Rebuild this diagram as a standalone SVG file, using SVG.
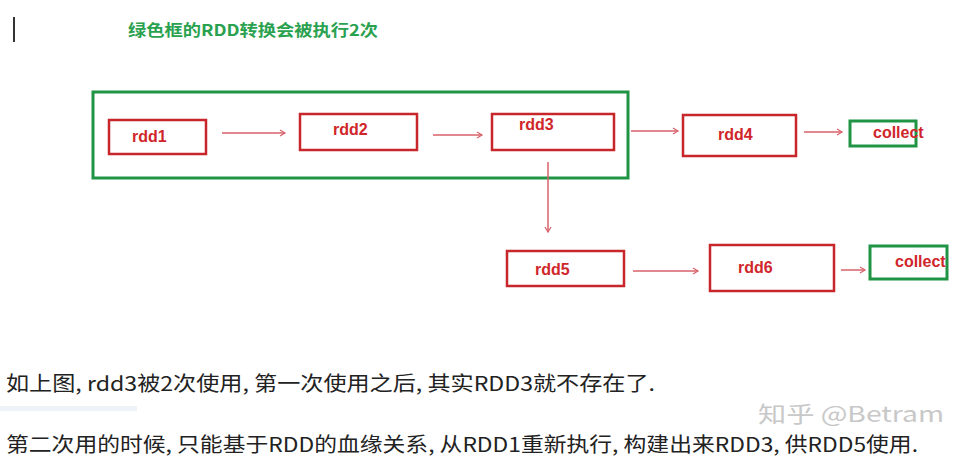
<svg xmlns="http://www.w3.org/2000/svg" width="968" height="462" viewBox="0 0 968 462">
<style>
.r{fill:none;stroke:#c8262b;stroke-width:2.5}
.g{fill:none;stroke:#1e9444;stroke-width:3}
.t{font-family:"Liberation Sans","Noto Sans CJK SC",sans-serif;font-weight:bold;font-size:16px;fill:#d0262b}
.c{stroke:#d8606a;stroke-width:1.5;fill:none;marker-end:url(#a)}
.b{font-family:"Noto Sans CJK SC",sans-serif;font-size:20px;fill:#222}
</style>
<defs><marker id="a" markerWidth="8" markerHeight="8" refX="6" refY="4" orient="auto" markerUnits="userSpaceOnUse"><path d="M1,1 L6,4 L1,7" fill="none" stroke="#d8606a" stroke-width="1.2"/></marker></defs>
<rect width="968" height="462" fill="#fff"/>
<line x1="14" y1="17" x2="14" y2="42" stroke="#333" stroke-width="2"/>
<text x="128" y="36" font-family="Noto Sans CJK SC,sans-serif" font-weight="bold" font-size="16" fill="#2aa14f" textLength="250" lengthAdjust="spacingAndGlyphs">绿色框的RDD转换会被执行2次</text>
<g id="green"><rect class="g" x="93" y="92" width="535" height="86"/></g>
<g id="rdd1"><rect class="r" x="109" y="120" width="97" height="34"/><text class="t" x="132" y="142">rdd1</text></g>
<g id="rdd2"><rect class="r" x="300" y="114" width="117" height="36"/><text class="t" x="333" y="135">rdd2</text></g>
<g id="rdd3"><rect class="r" x="492" y="114" width="122" height="36"/><text class="t" x="519" y="130">rdd3</text></g>
<g id="rdd4"><rect class="r" x="683" y="115" width="113" height="41"/><text class="t" x="718" y="140">rdd4</text></g>
<g id="collect1"><rect class="g" x="850" y="121" width="66" height="25" stroke-width="2.5"/><text class="t" x="873" y="138">collect</text></g>
<g id="rdd5"><rect class="r" x="507" y="251" width="117" height="35"/><text class="t" x="535" y="275">rdd5</text></g>
<g id="rdd6"><rect class="r" x="710" y="245" width="124" height="46"/><text class="t" x="738" y="273">rdd6</text></g>
<g id="collect2"><rect class="g" x="870" y="246" width="77" height="33" stroke-width="2.5"/><text class="t" x="895" y="267">collect</text></g>
<g id="connectors">
<line class="c" x1="222" y1="133" x2="285" y2="133"/>
<line class="c" x1="433" y1="135" x2="482" y2="135"/>
<line class="c" x1="631" y1="131" x2="678" y2="131"/>
<line class="c" x1="804" y1="132" x2="842" y2="132"/>
<line class="c" x1="548" y1="162" x2="548" y2="232"/>
<line class="c" x1="633" y1="271" x2="698" y2="271"/>
<line class="c" x1="841" y1="270" x2="865" y2="270"/>
</g>
<rect x="0" y="406" width="137" height="5" fill="#eef3fa"/>
<text class="b" x="6" y="391" textLength="649" lengthAdjust="spacingAndGlyphs">如上图, rdd3被2次使用, 第一次使用之后, 其实RDD3就不存在了.</text>
<text class="b" x="6" y="452" textLength="912" lengthAdjust="spacingAndGlyphs">第二次用的时候, 只能基于RDD的血缘关系, 从RDD1重新执行, 构建出来RDD3, 供RDD5使用.</text>
<text x="758" y="422" font-family="Noto Sans CJK SC,sans-serif" font-size="22" fill="#c8c8c8" textLength="186" lengthAdjust="spacingAndGlyphs">知乎 @Betram</text>
</svg>
